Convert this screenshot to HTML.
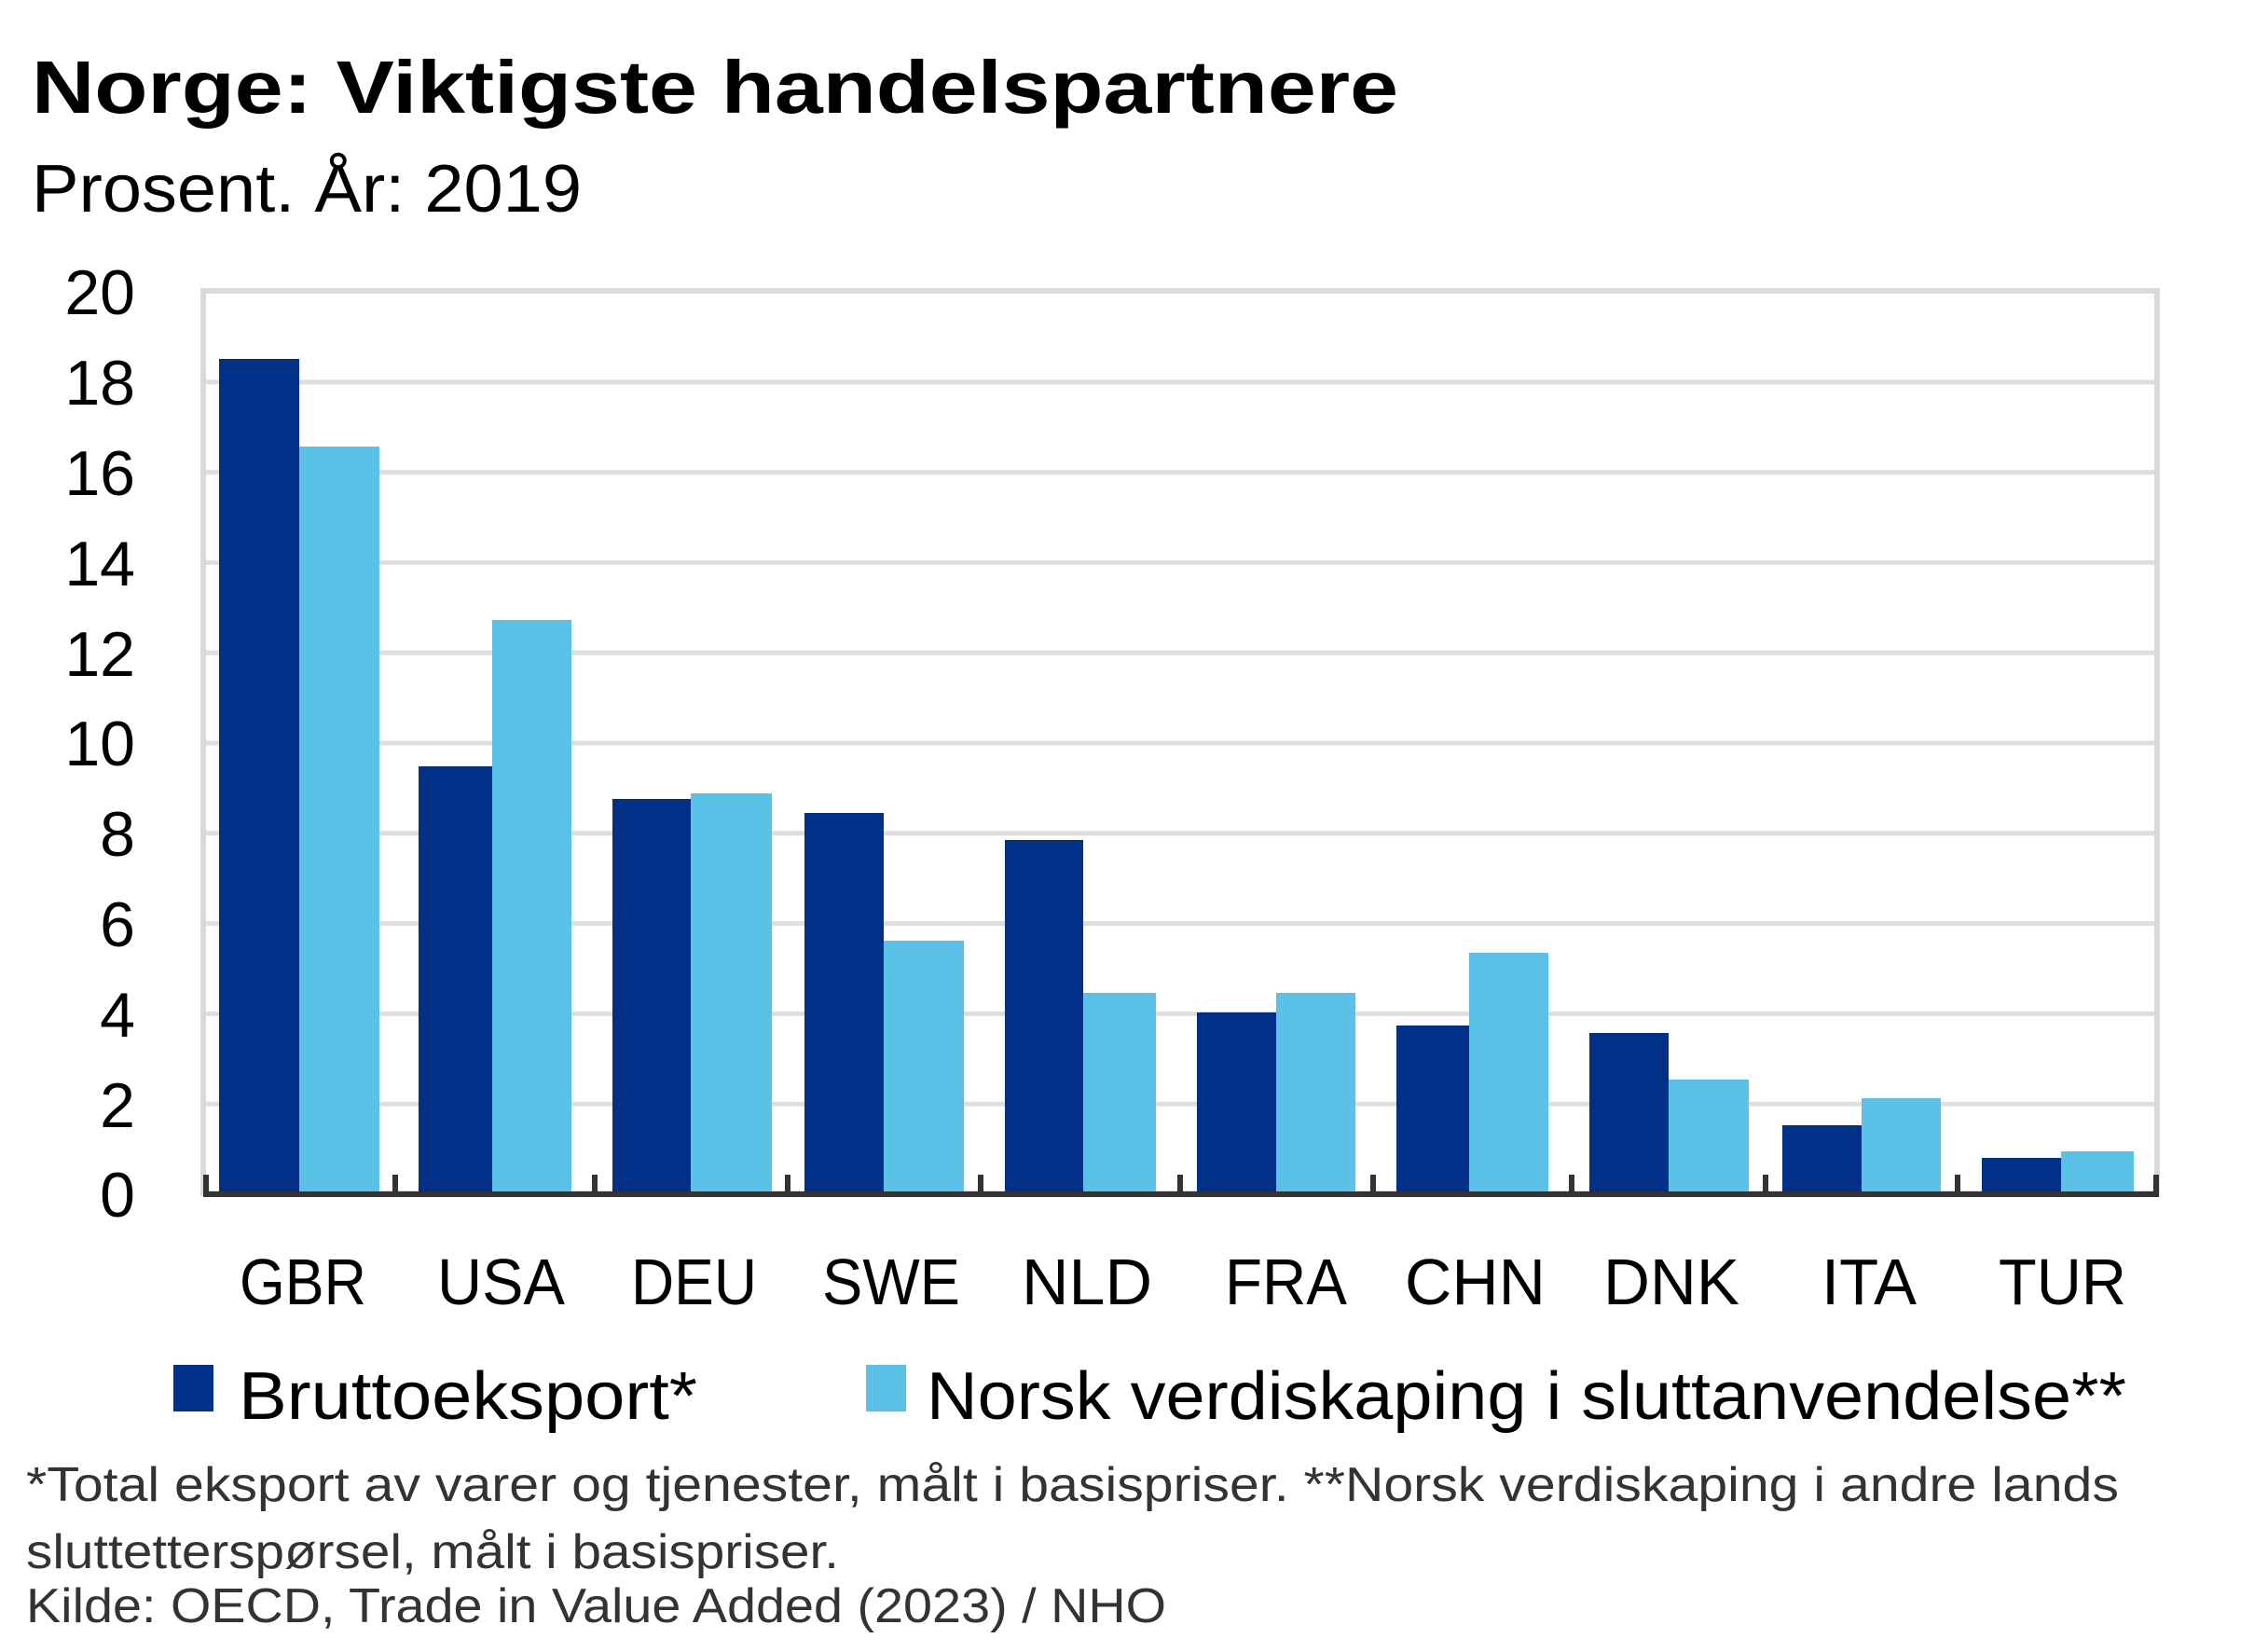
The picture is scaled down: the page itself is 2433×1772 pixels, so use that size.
<!DOCTYPE html>
<html><head><meta charset="utf-8"><style>
html,body{margin:0;padding:0;background:#fff}
svg{display:block}
text{font-family:"Liberation Sans","DejaVu Sans",sans-serif}
</style></head><body>
<svg width="2433" height="1772" viewBox="0 0 2433 1772" xmlns="http://www.w3.org/2000/svg">
<rect width="2433" height="1772" fill="#fff"/>
<text x="34" y="121" font-size="80" font-weight="bold" fill="#000" textLength="1466" lengthAdjust="spacingAndGlyphs">Norge:  Viktigste handelspartnere</text>
<text x="34" y="227" font-size="72" fill="#000" textLength="590" lengthAdjust="spacingAndGlyphs">Prosent. År: 2019</text>
<g stroke="#dedede" stroke-width="5">
<line x1="218" y1="409.9" x2="2314" y2="409.9"/><line x1="218" y1="506.6" x2="2314" y2="506.6"/>
<line x1="218" y1="603.4" x2="2314" y2="603.4"/><line x1="218" y1="700.2" x2="2314" y2="700.2"/>
<line x1="218" y1="797" x2="2314" y2="797"/><line x1="218" y1="893.8" x2="2314" y2="893.8"/>
<line x1="218" y1="990.6" x2="2314" y2="990.6"/><line x1="218" y1="1087.4" x2="2314" y2="1087.4"/>
<line x1="218" y1="1184.2" x2="2314" y2="1184.2"/>
</g>
<rect x="218" y="312" width="2096" height="968" fill="none" stroke="#d9d9d9" stroke-width="6"/>
<g>
<rect x="235" y="385" width="86" height="895" fill="#003087"/><rect x="321" y="479" width="86" height="801" fill="#5bc2e7"/>
<rect x="449" y="822" width="79" height="458" fill="#003087"/><rect x="528" y="665" width="85" height="615" fill="#5bc2e7"/>
<rect x="657" y="857" width="84" height="423" fill="#003087"/><rect x="741" y="851" width="87" height="429" fill="#5bc2e7"/>
<rect x="863" y="872" width="85" height="408" fill="#003087"/><rect x="948" y="1009" width="86" height="271" fill="#5bc2e7"/>
<rect x="1078" y="901" width="84" height="379" fill="#003087"/><rect x="1162" y="1065" width="78" height="215" fill="#5bc2e7"/>
<rect x="1284" y="1086" width="85" height="194" fill="#003087"/><rect x="1369" y="1065" width="85" height="215" fill="#5bc2e7"/>
<rect x="1498" y="1100" width="78" height="180" fill="#003087"/><rect x="1576" y="1022" width="85" height="258" fill="#5bc2e7"/>
<rect x="1705" y="1108" width="85" height="172" fill="#003087"/><rect x="1790" y="1158" width="86" height="122" fill="#5bc2e7"/>
<rect x="1912" y="1207" width="85" height="73" fill="#003087"/><rect x="1997" y="1178" width="85" height="102" fill="#5bc2e7"/>
<rect x="2126" y="1242" width="85" height="38" fill="#003087"/><rect x="2211" y="1235" width="78" height="45" fill="#5bc2e7"/>
</g>
<line x1="218" y1="1281" x2="2316" y2="1281" stroke="#333" stroke-width="6"/>
<g stroke="#333" stroke-width="6">
<line x1="221" y1="1260" x2="221" y2="1283"/><line x1="424" y1="1260" x2="424" y2="1283"/>
<line x1="638" y1="1260" x2="638" y2="1283"/><line x1="845" y1="1260" x2="845" y2="1283"/>
<line x1="1052" y1="1260" x2="1052" y2="1283"/><line x1="1266" y1="1260" x2="1266" y2="1283"/>
<line x1="1473" y1="1260" x2="1473" y2="1283"/><line x1="1686" y1="1260" x2="1686" y2="1283"/>
<line x1="1894" y1="1260" x2="1894" y2="1283"/><line x1="2100" y1="1260" x2="2100" y2="1283"/>
<line x1="2313" y1="1260" x2="2313" y2="1283"/>
</g>
<g font-size="68" fill="#000" text-anchor="end">
<text x="145" y="337">20</text><text x="145" y="434">18</text><text x="145" y="531">16</text>
<text x="145" y="628">14</text><text x="145" y="725">12</text><text x="145" y="821">10</text>
<text x="145" y="918">8</text><text x="145" y="1015">6</text><text x="145" y="1112">4</text>
<text x="145" y="1209">2</text><text x="145" y="1305">0</text>
</g>
<g font-size="70" fill="#000">
<text x="257" y="1399" textLength="136" lengthAdjust="spacingAndGlyphs">GBR</text>
<text x="469" y="1399" textLength="137" lengthAdjust="spacingAndGlyphs">USA</text>
<text x="677" y="1399" textLength="135" lengthAdjust="spacingAndGlyphs">DEU</text>
<text x="882" y="1399" textLength="148" lengthAdjust="spacingAndGlyphs">SWE</text>
<text x="1096" y="1399" textLength="140" lengthAdjust="spacingAndGlyphs">NLD</text>
<text x="1314" y="1399" textLength="131" lengthAdjust="spacingAndGlyphs">FRA</text>
<text x="1507" y="1399" textLength="151" lengthAdjust="spacingAndGlyphs">CHN</text>
<text x="1720" y="1399" textLength="146" lengthAdjust="spacingAndGlyphs">DNK</text>
<text x="1954" y="1399" textLength="102" lengthAdjust="spacingAndGlyphs">ITA</text>
<text x="2144" y="1399" textLength="137" lengthAdjust="spacingAndGlyphs">TUR</text>
</g>
<rect x="186" y="1464" width="43" height="50" fill="#003087"/>
<text x="256" y="1522" font-size="72" fill="#000" textLength="492" lengthAdjust="spacingAndGlyphs">Bruttoeksport*</text>
<rect x="929" y="1464" width="43" height="50" fill="#5bc2e7"/>
<text x="994" y="1522" font-size="72" fill="#000" textLength="1287" lengthAdjust="spacingAndGlyphs">Norsk verdiskaping i sluttanvendelse**</text>
<g font-size="52" fill="#333">
<text x="28" y="1610" textLength="2245" lengthAdjust="spacingAndGlyphs">*Total eksport av varer og tjenester, målt i basispriser. **Norsk verdiskaping i andre lands</text>
<text x="28" y="1682" textLength="872" lengthAdjust="spacingAndGlyphs">sluttetterspørsel, målt i basispriser.</text>
<text x="28" y="1740" textLength="1223" lengthAdjust="spacingAndGlyphs">Kilde: OECD, Trade in Value Added (2023) / NHO</text>
</g>
</svg>
</body></html>
